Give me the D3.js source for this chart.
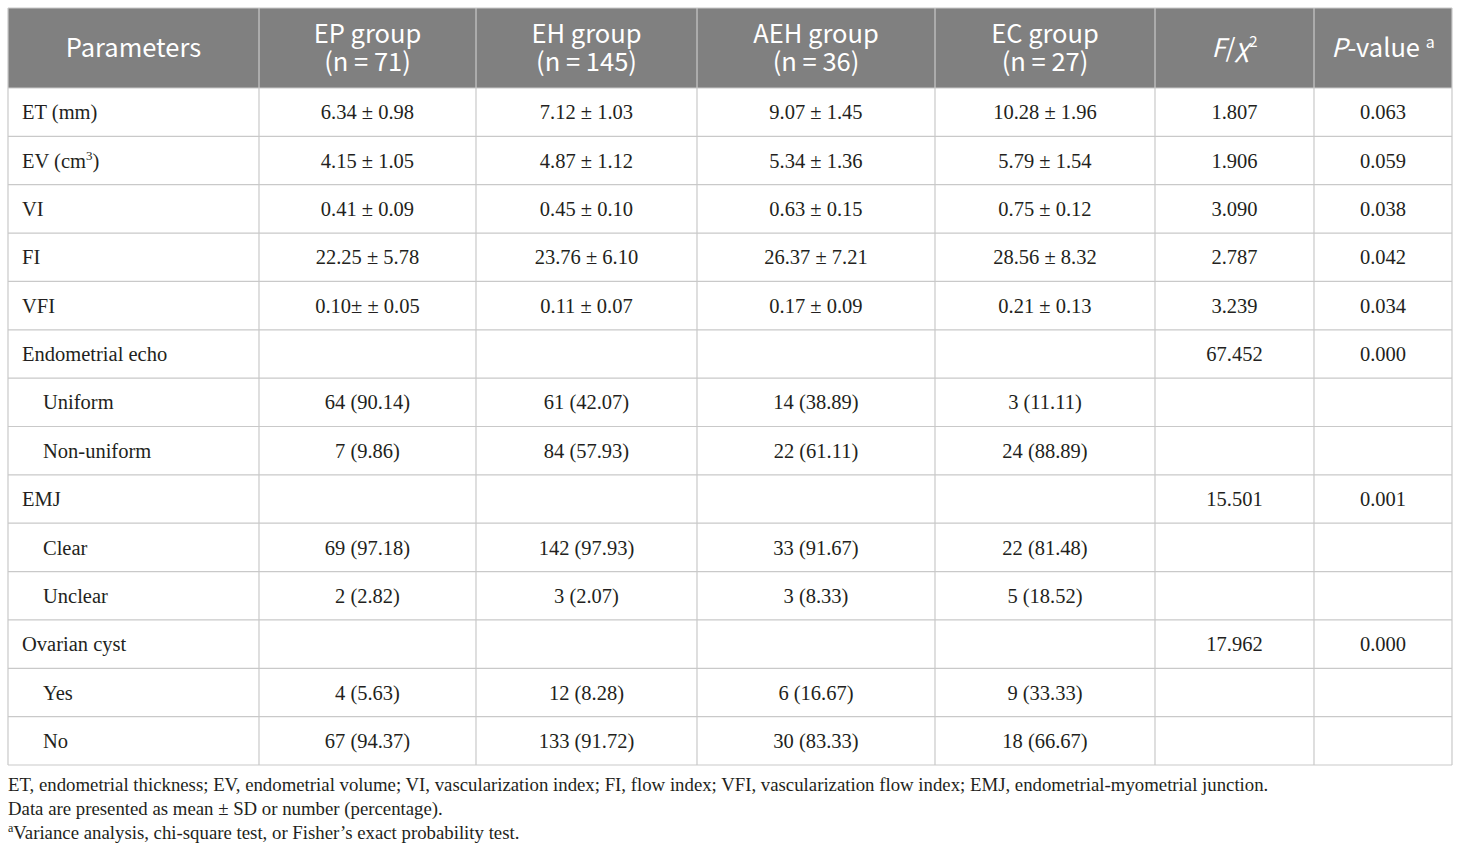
<!DOCTYPE html>
<html>
<head>
<meta charset="utf-8">
<script src="https://cdn.jsdelivr.net/npm/d3@7"></script>
<style>
  body { margin: 0; background: #fff; }
</style>
</head>
<body>
<div id="container"></div>
<script>
var width = 1460,
    height = 852;

// column headers (line 1 / line 2)
var groups = ["EP group", "EH group", "AEH group", "EC group"];
var groupN = ["(n = 71)", "(n = 145)", "(n = 36)", "(n = 27)"];

// row labels, indent flag
var rowLabels = ["ET (mm)", "EV (cm3)", "VI", "FI", "VFI", "Endometrial echo", "Uniform", "Non-uniform",
    "EMJ", "Clear", "Unclear", "Ovarian cyst", "Yes", "No"];
var rowIndent = [0, 0, 0, 0, 0, 0, 1, 1, 0, 1, 1, 0, 1, 1];

var epValues = ["6.34 ± 0.98", "4.15 ± 1.05", "0.41 ± 0.09", "22.25 ± 5.78", "0.10± ± 0.05", "",
    "64 (90.14)", "7 (9.86)", "", "69 (97.18)", "2 (2.82)", "", "4 (5.63)", "67 (94.37)"];
var ehValues = ["7.12 ± 1.03", "4.87 ± 1.12", "0.45 ± 0.10", "23.76 ± 6.10", "0.11 ± 0.07", "",
    "61 (42.07)", "84 (57.93)", "", "142 (97.93)", "3 (2.07)", "", "12 (8.28)", "133 (91.72)"];
var aehValues = ["9.07 ± 1.45", "5.34 ± 1.36", "0.63 ± 0.15", "26.37 ± 7.21", "0.17 ± 0.09", "",
    "14 (38.89)", "22 (61.11)", "", "33 (91.67)", "3 (8.33)", "", "6 (16.67)", "30 (83.33)"];
var ecValues = ["10.28 ± 1.96", "5.79 ± 1.54", "0.75 ± 0.12", "28.56 ± 8.32", "0.21 ± 0.13", "",
    "3 (11.11)", "24 (88.89)", "", "22 (81.48)", "5 (18.52)", "", "9 (33.33)", "18 (66.67)"];
var statValues = ["1.807", "1.906", "3.090", "2.787", "3.239", "67.452", "", "", "15.501", "", "", "17.962", "", ""];
var pValues = ["0.063", "0.059", "0.038", "0.042", "0.034", "0.000", "", "", "0.001", "", "", "0.000", "", ""];

var footnotes = [
    "ET, endometrial thickness; EV, endometrial volume; VI, vascularization index; FI, flow index; VFI, vascularization flow index; EMJ, endometrial-myometrial junction.",
    "Data are presented as mean ± SD or number (percentage).",
    "Variance analysis, chi-square test, or Fisher’s exact probability test."
];

// layout
var colEdges = [8, 259, 476, 697, 935, 1155, 1314, 1452];
var tableTop = 8, headBottom = 88, tableBottom = 765;
var lineColor = "#c9c9c9", headFill = "#808080", textColor = "#231f20";
var serif = "'Liberation Serif', 'Times New Roman', serif";
var sans = "'Noto Sans CJK SC', 'Noto Sans', sans-serif";

var svg = d3.select("#container").append("svg")
    .attr("width", width)
    .attr("height", height);

var x = d3.scaleOrdinal().domain(d3.range(colEdges.length)).range(colEdges);
var y = d3.scaleBand()
    .domain(d3.range(rowLabels.length))
    .range([headBottom, tableBottom]);

// header background
svg.append("rect")
    .attr("x", x(0)).attr("y", tableTop)
    .attr("width", x(7) - x(0)).attr("height", headBottom - tableTop)
    .attr("fill", headFill);

// horizontal lines
var hLines = [tableTop, headBottom].concat(d3.range(rowLabels.length).map(i => y(i) + y.bandwidth()));
svg.selectAll("line.h").data(hLines).enter().append("line")
    .attr("class", "h")
    .attr("x1", x(0)).attr("x2", x(7))
    .attr("y1", d => d).attr("y2", d => d)
    .attr("stroke", lineColor).attr("stroke-width", 1.2);

// vertical lines
svg.selectAll("line.v").data(d3.range(8)).enter().append("line")
    .attr("class", "v")
    .attr("x1", d => x(d)).attr("x2", d => x(d))
    .attr("y1", tableTop)
    .attr("y2", tableBottom)
    .attr("stroke", lineColor).attr("stroke-width", 1.2);

function cx(i) { return (x(i) + x(i + 1)) / 2; }

// header text
var head = svg.append("g")
    .attr("fill", "#fff")
    .attr("font-family", sans)
    .attr("font-size", 25.5)
    .attr("text-anchor", "middle");

head.append("text").attr("x", cx(0)).attr("y", 57).text("Parameters");

groups.forEach(function (g, i) {
    var t = head.append("text").attr("y", 43);
    t.append("tspan").attr("x", cx(i + 1)).text(g);
    t.append("tspan").attr("x", cx(i + 1)).attr("dy", 28).text(groupN[i]);
});

var fchi = head.append("text").attr("x", cx(5)).attr("y", 57);
fchi.append("tspan").attr("font-style", "italic").text("F");
fchi.append("tspan").text("/");
fchi.append("tspan").attr("font-style", "italic").text("χ");
fchi.append("tspan").attr("font-size", 15).attr("dy", -10).text("2");

var pv = head.append("text").attr("x", cx(6)).attr("y", 57);
pv.append("tspan").attr("font-style", "italic").text("P");
pv.append("tspan").text("-value ");
pv.append("tspan").attr("font-size", 16).attr("dy", -9).text("a");

// body text
var body = svg.append("g")
    .attr("fill", textColor)
    .attr("font-family", serif)
    .attr("font-size", 20.5);

rowLabels.forEach(function (lab, i) {
    var t = body.append("text")
        .attr("x", rowIndent[i] ? 43 : 22)
        .attr("y", y(i) + y.bandwidth() / 2)
        .attr("dy", "0.35em");
    if (lab == "EV (cm3)") {
        t.append("tspan").text("EV (cm");
        t.append("tspan").attr("font-size", 13).attr("dy", -8).text("3");
        t.append("tspan").attr("dy", 8).text(")");
    } else {
        t.text(lab);
    }
});

var columns = [epValues, ehValues, aehValues, ecValues, statValues, pValues];
columns.forEach(function (vals, c) {
    body.selectAll(null).data(vals).enter().append("text")
        .attr("x", cx(c + 1))
        .attr("y", (d, i) => y(i) + y.bandwidth() / 2)
        .attr("dy", "0.35em")
        .attr("text-anchor", "middle")
        .text(d => d);
});

// footnotes
var foot = svg.append("g")
    .attr("fill", textColor)
    .attr("font-family", serif)
    .attr("font-size", 18.8);

foot.append("text").attr("x", 8).attr("y", 791).text(footnotes[0]);
foot.append("text").attr("x", 8).attr("y", 815).text(footnotes[1]);
var f3 = foot.append("text").attr("x", 8).attr("y", 839);
f3.append("tspan").attr("font-size", 12).attr("dy", -7).text("a");
f3.append("tspan").attr("dy", 7).text(footnotes[2]);
</script>
</body>
</html>
